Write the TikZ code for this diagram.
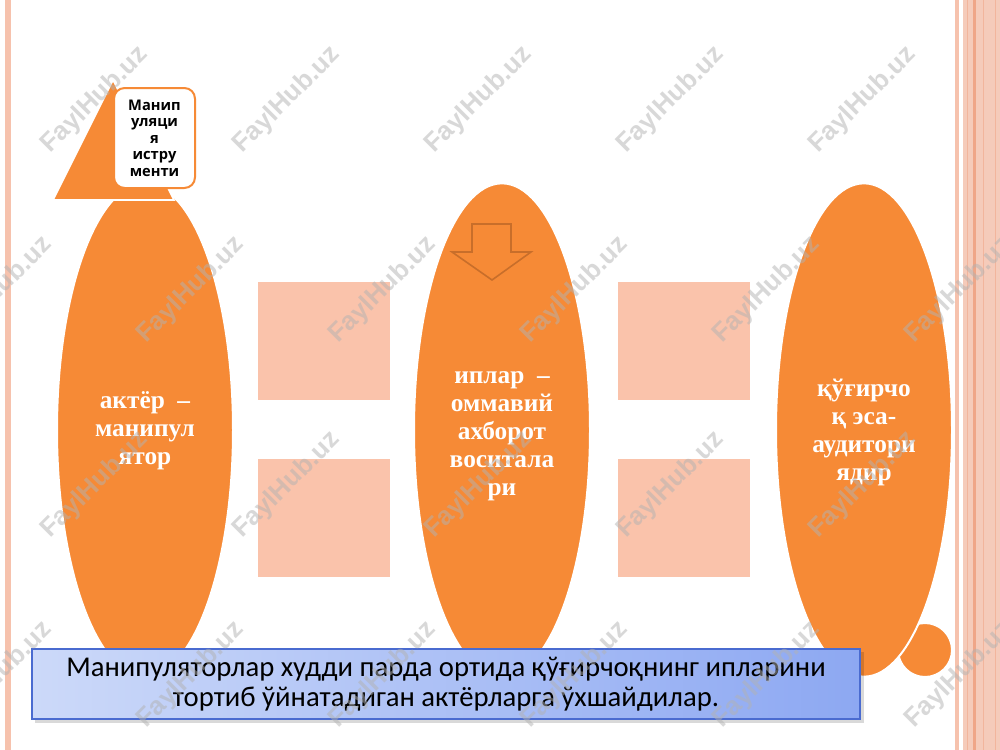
\documentclass[tikz,border=0pt]{standalone}
\usepackage{fontspec}
\setmainfont{Liberation Serif}
\newfontfamily\calfont{Carlito}
\newfontfamily\opfont{Open Sans}
\newfontfamily\wmfont{Liberation Sans}
\usetikzlibrary{shapes.geometric}
\definecolor{org}{HTML}{F68A36}
\definecolor{salmon}{HTML}{FAC3AB}
\definecolor{pinkline}{HTML}{F6C2AD}
\definecolor{rbg}{HTML}{F5CBBA}
\definecolor{rline}{HTML}{EFA688}
\definecolor{rline2}{HTML}{F2B59C}
\definecolor{arrowcol}{HTML}{C86E2A}
\definecolor{boxL}{HTML}{CCD9F9}
\definecolor{boxR}{HTML}{8DA8F2}
\definecolor{boxline}{HTML}{4A6BD0}
\begin{document}
\begin{tikzpicture}[x=0.75pt,y=-0.75pt,
  oval/.style={ellipse, fill=org, draw=white, line width=1.5pt,
    minimum width=132pt, minimum height=370pt, inner sep=0pt},
  ovaltext/.style={text=white, align=center, inner sep=0pt,
    font=\bfseries\fontsize{19}{21}\selectfont},
  sq/.style={fill=salmon, minimum width=99pt, minimum height=88.5pt, inner sep=0pt},
  wm/.style={rotate=45, font=\wmfont\bfseries\fontsize{19.5}{19.5}\selectfont,
    text=black!30, text opacity=0.5, inner sep=0pt}
]
\useasboundingbox (0,0) rectangle (1000,750);
\fill[white] (0,0) rectangle (1000,750);
% borders
\fill[pinkline] (5,0) rectangle (10.5,750);
\fill[pinkline] (955,0) rectangle (958.5,750);
\fill[rbg] (963,0) rectangle (1000,750);
\fill[rline2] (967,0) rectangle (968,750);
\fill[rline] (973,0) rectangle (976,750);
\fill[rline2] (983,0) rectangle (984,750);
\fill[rline2] (995,0) rectangle (996,750);

% salmon squares
\node[sq] (s1) at (324,341) {};
\node[sq] (s2) at (324,517.5) {};
\node[sq] (s3) at (684,341) {};
\node[sq] (s4) at (684,517.5) {};

% ellipses
\node[oval] (e1) at (145,430) {};
\node[oval] (e2) at (502,430) {};
\node[circle, fill=org, draw=white, line width=1.5pt, minimum size=40.5pt, inner sep=0pt] (bub) at (925,650) {};
\node[oval] (e3) at (864,430) {};

% triangle and tool box
\filldraw[fill=org, draw=white, line width=1.2pt] (113,80) -- (53,200) -- (174,200) -- cycle;
\node[draw=org, line width=1.5pt, fill=white, rounded corners=8pt,
  minimum width=60.75pt, minimum height=75pt, inner sep=0pt, align=center,
  font=\opfont\bfseries\fontsize{11}{12.4}\selectfont] (tool) at (154.5,138)
  {Манип\\уляци\\я\\истру\\менти};

% arrow in middle ellipse
\draw[arrowcol, line width=1.2pt, line join=miter]
  (472,224) -- (511,224) -- (511,252) -- (531,252) -- (492,280) -- (452,252) -- (472,252) -- cycle;

% ellipse texts
\node[ovaltext] (t1) at (145,431) {актёр~~–\\манипул\\ятор};
\node[ovaltext] (t2) at (502,436) {иплар~~–\\оммавий\\ахборот\\воситала\\ри};
\node[ovaltext] (t3) at (864,432) {қўғирчо\\қ эса-\\аудитори\\ядир};

% bottom note box
\fill[black, opacity=0.15] (35,652) rectangle (864,723);
\node[draw=boxline, line width=1pt, left color=boxL, right color=boxR,
  minimum width=621pt, minimum height=52.5pt, inner sep=0pt, align=center,
  font=\calfont\fontsize{21.5}{22}\selectfont] (note) at (446,684)
  {Манипуляторлар худди парда ортида қўғирчоқнинг ипларини\\тортиб ўйнатадиган актёрларга ўхшайдилар.};

% watermarks
\foreach \y in {100,485} \foreach \x in {95,287,479,671,863}
  \node[wm] (wm-\x-\y) at (\x,\y) {FaylHub.uz};
\foreach \y in {290,675} \foreach \x in {-1,191,383,575,767,959}
  \node[wm] (wm-\x-\y) at (\x,\y) {FaylHub.uz};
\end{tikzpicture}
\end{document}
